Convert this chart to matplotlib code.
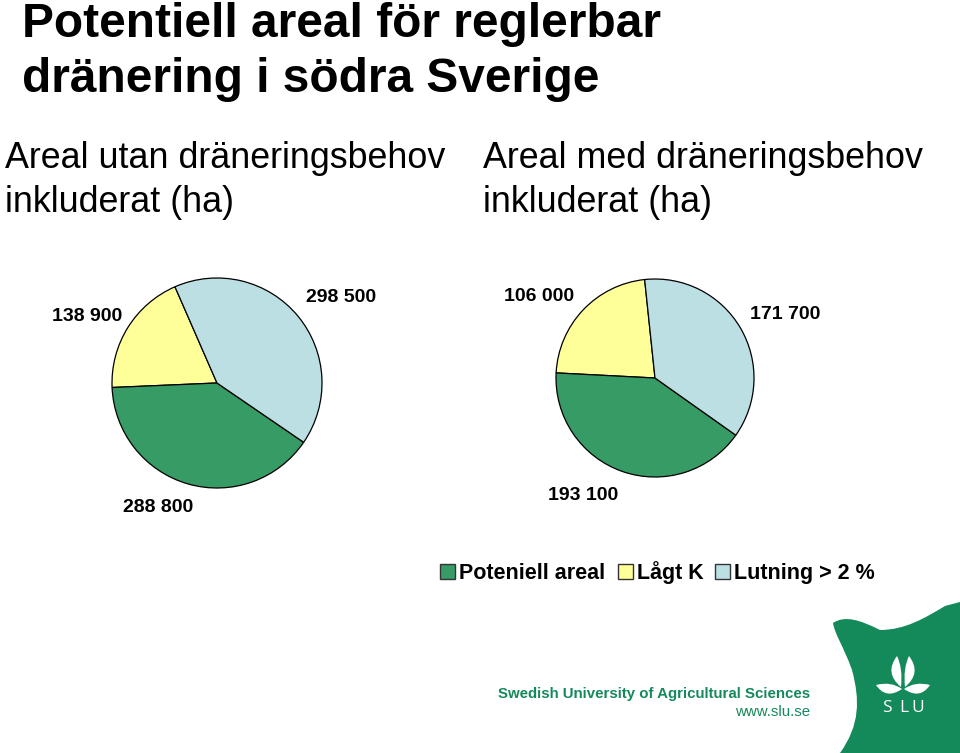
import matplotlib
matplotlib.use("Agg")
import matplotlib.pyplot as plt
from matplotlib import font_manager
from matplotlib.path import Path
from matplotlib.patches import PathPatch, Rectangle

# ---- data ----
categories = ["Potentiell areal", "Lågt K", "Lutning > 2 %"]
legend_labels = ["Poteniell areal", "Lågt K", "Lutning > 2 %"]
left_values = [288800, 138900, 298500]    # green, yellow, blue
right_values = [193100, 106000, 171700]
title_lines = ["Potentiell areal för reglerbar", "dränering i södra Sverige"]
left_title = ["Areal utan dräneringsbehov", "inkluderat (ha)"]
right_title = ["Areal med dräneringsbehov", "inkluderat (ha)"]
footer = ["Swedish University of Agricultural Sciences", "www.slu.se"]

colors = ["#369b64", "#ffff99", "#bcdfe3"]

names = {f.name for f in font_manager.fontManager.ttflist}
narrow = "Liberation Sans Narrow" if "Liberation Sans Narrow" in names else "Liberation Sans"
plt.rcParams["font.family"] = ["Liberation Sans", "DejaVu Sans"]

W, H = 960, 753
fig = plt.figure(figsize=(W / 100, H / 100), dpi=100)
ax = fig.add_axes([0, 0, 1, 1])

def Y(y):
    return H - y

def fmt(v):
    return f"{v:,}".replace(",", " ")

# pies: order counterclockwise yellow, green, blue
def draw_pie(vals, cx, cy, r, start, label_pos):
    order = [1, 0, 2]
    ax.pie([vals[i] for i in order], colors=[colors[i] for i in order],
           startangle=start, counterclock=True, center=(cx, Y(cy)), radius=r,
           wedgeprops=dict(edgecolor="black", linewidth=0.9))
    for i, (lx, ly) in zip(range(3), label_pos):
        ax.text(lx, Y(ly), fmt(vals[i]), ha="center", va="center",
                fontsize=14, fontweight="bold")

draw_pie(left_values, 217, 383, 105, 113.6,
         [(158, 507), (87, 316), (341, 297)])
draw_pie(right_values, 655, 378, 99, 96,
         [(583, 495), (539, 296), (785, 314)])

ax.set_xlim(0, W)
ax.set_ylim(0, H)
ax.set_aspect("auto")
ax.axis("off")

# titles
for line, yb in zip(title_lines, [37, 92]):
    ax.text(22, Y(yb), line, fontsize=34.5, fontweight="bold",
            family=narrow, va="baseline", ha="left")
for x0, t in [(5, left_title), (483, right_title)]:
    ax.text(x0, Y(168), t[0], fontsize=25.8, va="baseline", ha="left")
    ax.text(x0, Y(212), t[1], fontsize=25.8, va="baseline", ha="left")

# legend
xs = [440, 618, 715]
for x, lab, c in zip(xs, legend_labels, colors):
    ax.add_patch(Rectangle((x, Y(579)), 15, 15, facecolor=c, edgecolor="#333333", lw=1))
    ax.text(x + 19, Y(579), lab, fontsize=15.5, fontweight="bold", va="baseline", ha="left")

# SLU logo shape
green = "#14895a"
verts = [(833, 623), (845, 615), (860, 620), (880, 630),
         (905, 630), (925, 618), (945, 606), (960, 602),
         (960, 753), (840, 753),
         (860, 725), (860, 700), (852, 670),
         (843, 645), (835, 635), (833, 623)]
codes = [Path.MOVETO, Path.CURVE4, Path.CURVE4, Path.CURVE4,
         Path.CURVE4, Path.CURVE4, Path.CURVE4, Path.LINETO,
         Path.LINETO, Path.LINETO,
         Path.CURVE4, Path.CURVE4, Path.CURVE4,
         Path.CURVE4, Path.CURVE4, Path.CURVE4]
ax.add_patch(PathPatch(Path([(x, Y(y)) for x, y in verts], codes),
                       facecolor=green, edgecolor="none"))

def leaf(B, T, c1, c2):
    pts = [B, c1, T, c2, B]
    cds = [Path.MOVETO, Path.CURVE3, Path.CURVE3, Path.CURVE3, Path.CURVE3]
    ax.add_patch(PathPatch(Path([(x, Y(y)) for x, y in pts], cds),
                           facecolor="white", edgecolor="none"))

leaf((901, 687), (897, 656), (884, 673), (903, 668))
leaf((905, 687), (909, 656), (922, 673), (903, 668))
leaf((902, 689), (876, 685), (886, 700), (891, 681))
leaf((904, 689), (930, 685), (920, 700), (915, 681))
for ch, xc in zip("SLU", [887, 904, 918]):
    ax.text(xc, Y(712), ch, color="white", fontsize=12.5, ha="center", va="baseline",
            family="Open Sans")

ax.text(810, Y(698), footer[0], color=green,
        fontsize=10.8, fontweight="bold", ha="right", va="baseline")
ax.text(810, Y(716), footer[1], color=green, fontsize=10.8, ha="right", va="baseline")

fig.savefig("out.png", dpi=100)
